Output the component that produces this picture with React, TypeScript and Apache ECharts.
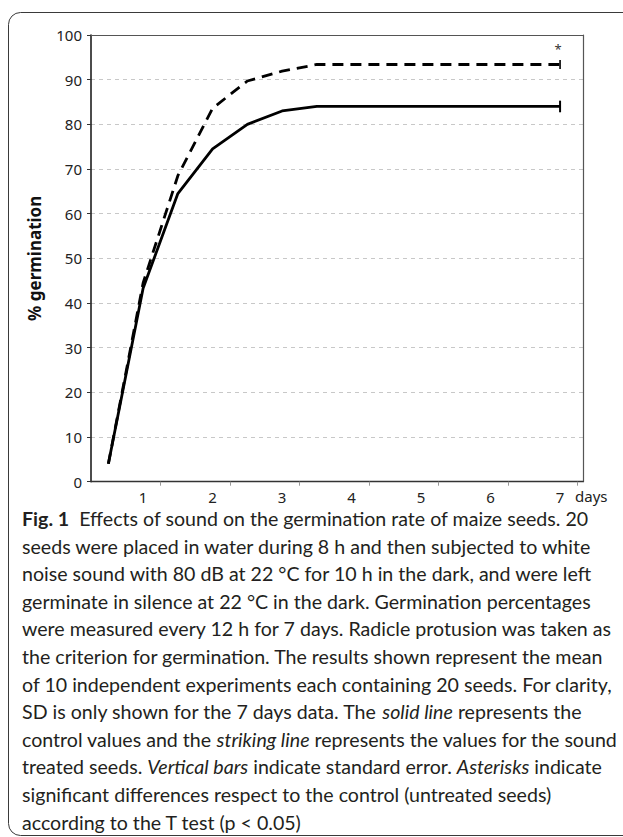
import React, { useEffect, useRef } from "react";
import * as echarts from "echarts";

const days = [0.5, 1, 1.5, 2, 2.5, 3, 3.5, 4, 4.5, 5, 5.5, 6, 6.5, 7];
const control = [4, 43.3, 64.5, 74.5, 80, 83, 84, 84, 84, 84, 84, 84, 84, 84];
const sound = [4, 44.5, 68.5, 83.6, 89.7, 91.9, 93.4, 93.4, 93.4, 93.4, 93.4, 93.4, 93.4, 93.4];
const xLabels = [1, 2, 3, 4, 5, 6, 7];
const xTicks = [1.25, 2.25, 3.25, 4.25, 5.25, 6.25, 7.25];
const yTicks = [0, 10, 20, 30, 40, 50, 60, 70, 80, 90, 100];
// [day, mean, error]
const errorBars = [
  [7, 84, 1.3],
  [7, 93.4, 1.0],
];
// [day, value]
const asterisks = [[7, 96.8]];

const captionLines = [
  "{b|Fig. 1}  Effects of sound on the germination rate of maize seeds. 20",
  "seeds were placed in water during 8 h and then subjected to white",
  "noise sound with 80 dB at 22 °C for 10 h in the dark, and were left",
  "germinate in silence at 22 °C in the dark. Germination percentages",
  "were measured every 12 h for 7 days. Radicle protusion was taken as",
  "the criterion for germination. The results shown represent the mean",
  "of 10 independent experiments each containing 20 seeds. For clarity,",
  "SD is only shown for the 7 days data. The {i|solid line} represents the",
  "control values and the {i|striking line} represents the values for the sound",
  "treated seeds. {i|Vertical bars} indicate standard error. {i|Asterisks} indicate",
  "significant differences respect to the control (untreated seeds)",
  "according to the T test (p < 0.05)",
];

const FONT = "'Noto Sans', 'DejaVu Sans', sans-serif";
const CAP_FONT = "Lato, 'Noto Sans', sans-serif";
const CAP_SIZE = 19.6;

export default function App() {
  const ref = useRef<HTMLDivElement>(null);
  useEffect(() => {
    if (!ref.current) return;
    const chart = echarts.init(ref.current, undefined, { renderer: "svg" });
    const capTop = 518.5;
    const capStep = 27.6;
    const graphics: any[] = [
      {
        type: "rect",
        silent: true,
        shape: { x: 8.5, y: 12.5, width: 700, height: 823, r: 12 },
        style: { fill: "none", stroke: "#3a3a3a", lineWidth: 1 },
      },
      {
        type: "text",
        silent: true,
        x: 575,
        y: 496,
        style: {
          text: "days",
          fontSize: 15,
          lineHeight: 15,
          fontFamily: FONT,
          fill: "#222",
          verticalAlign: "middle",
        },
      },
    ];
    captionLines.forEach((t, i) => {
      graphics.push({
        type: "text",
        silent: true,
        x: 22,
        y: capTop + i * capStep,
        style: {
          text: t,
          fontSize: CAP_SIZE,
          lineHeight: 20,
          fontFamily: CAP_FONT,
          fill: "#231f20",
          verticalAlign: "middle",
          rich: {
            b: { fontWeight: "bold", fontSize: CAP_SIZE, lineHeight: 20, fontFamily: CAP_FONT, fill: "#231f20" },
            i: { fontStyle: "italic", fontSize: CAP_SIZE, lineHeight: 20, fontFamily: CAP_FONT, fill: "#231f20" },
          },
        },
      });
    });

    chart.setOption({
      animation: false,
      grid: { left: 91, top: 35, width: 492, height: 446.7 },
      xAxis: [
        {
          type: "value",
          min: 0.25,
          max: 7.33,
          axisLine: { show: true, lineStyle: { color: "#333", width: 1.3 } },
          axisTick: { show: true, customValues: xTicks, length: 4, lineStyle: { color: "#999" } },
          axisLabel: {
            customValues: xLabels,
            margin: 8,
            fontSize: 15,
            lineHeight: 15,
            color: "#222",
            fontFamily: FONT,
          },
          splitLine: { show: false },
        },
        {
          type: "value",
          position: "top",
          min: 0.25,
          max: 7.33,
          axisLine: { show: true, onZero: false, lineStyle: { color: "#555", width: 1.2 } },
          axisTick: { show: false },
          axisLabel: { show: false },
          splitLine: { show: false },
        },
      ],
      yAxis: [
        {
          type: "value",
          min: 0,
          max: 100,
          interval: 10,
          name: "% germination",
          nameLocation: "middle",
          nameGap: 48,
          nameTextStyle: { fontWeight: "bold", fontSize: 17, color: "#111", fontFamily: FONT },
          axisLine: { show: true, lineStyle: { color: "#111", width: 1.5 } },
          axisTick: { show: true, customValues: yTicks, length: 4, lineStyle: { color: "#333" } },
          axisLabel: { margin: 9, fontSize: 15, color: "#222", fontFamily: FONT },
          splitLine: { show: true, lineStyle: { color: "#c8c8c8", type: [4, 4], width: 1 } },
        },
        {
          type: "value",
          position: "right",
          min: 0,
          max: 100,
          axisLine: { show: true, onZero: false, lineStyle: { color: "#555", width: 1.2 } },
          axisTick: { show: false },
          axisLabel: { show: false },
          splitLine: { show: false },
        },
      ],
      series: [
        {
          type: "line",
          silent: true,
          symbol: "none",
          data: days.map((d, i) => [d, control[i]]),
          lineStyle: { color: "#000", width: 2.8 },
          z: 3,
        },
        {
          type: "line",
          silent: true,
          symbol: "none",
          data: days.map((d, i) => [d, sound[i]]),
          lineStyle: { color: "#000", width: 2.8, type: [11, 7] },
          z: 3,
        },
        {
          type: "custom",
          silent: true,
          data: errorBars,
          dimensions: ["x", "y", "e"],
          encode: { x: 0, y: 1 },
          z: 4,
          renderItem: (params: any, api: any) => {
            const x = api.value(0);
            const y = api.value(1);
            const e = api.value(2);
            const p1 = api.coord([x, y + e]);
            const p2 = api.coord([x, y - e]);
            return {
              type: "line",
              shape: { x1: p1[0], y1: p1[1], x2: p2[0], y2: p2[1] },
              style: { stroke: "#000", lineWidth: params.dataIndex === 0 ? 2 : 1.6 },
            };
          },
        },
        {
          type: "custom",
          silent: true,
          data: asterisks,
          encode: { x: 0, y: 1 },
          z: 4,
          renderItem: (params: any, api: any) => {
            const p = api.coord([api.value(0), api.value(1)]);
            return {
              type: "text",
              x: p[0] - 2,
              y: p[1],
              style: {
                text: "*",
                fontSize: 13,
                fontFamily: FONT,
                fill: "#333",
                align: "center",
                verticalAlign: "middle",
              },
            };
          },
        },
      ],
      graphic: graphics,
    });
    return () => chart.dispose();
  }, []);
  return (
    <div
      ref={ref}
      style={{ position: "absolute", left: 0, top: 0, width: 623, height: 837, background: "#fff" }}
    />
  );
}
